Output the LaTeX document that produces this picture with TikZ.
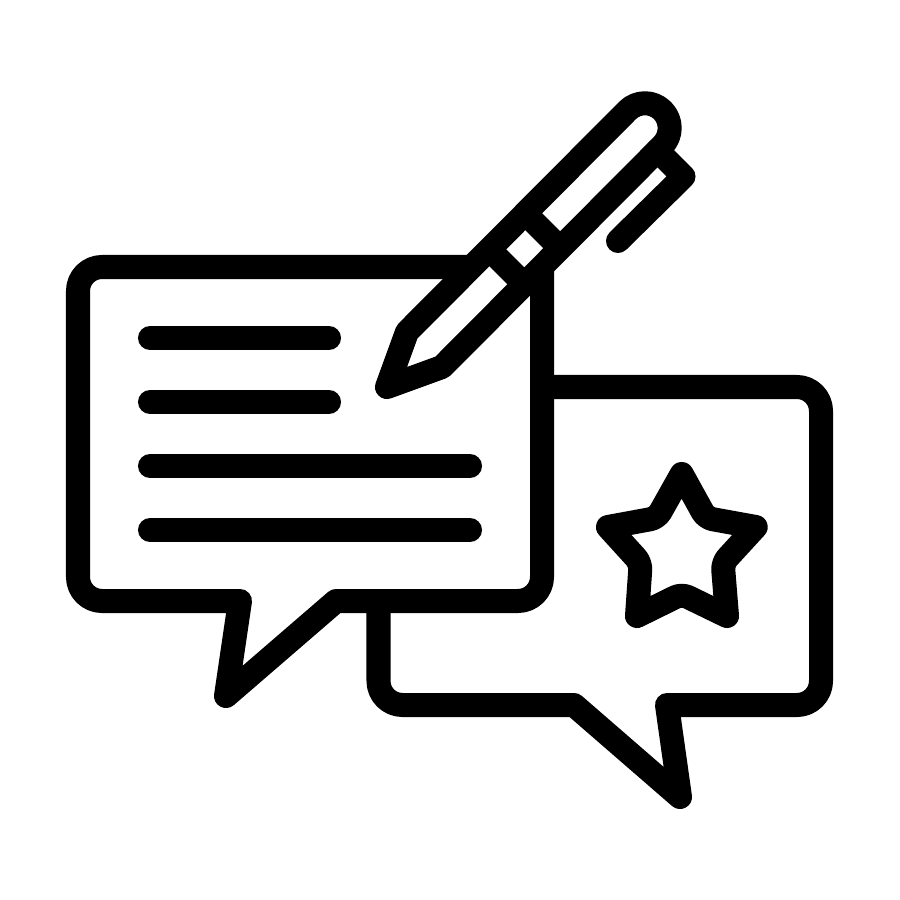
\documentclass[tikz,border=0pt]{standalone}
\usetikzlibrary{calc}
\tikzset{iconline/.style={draw=black, line width=0.24cm, line join=round, line cap=round}}
\tikzset{penband/.style={draw=black, line width=0.24cm, line cap=butt}}

\begin{document}
\begin{tikzpicture}[x=0.01cm, y=-0.01cm]
                    \fill[white] (0,0) rectangle (900,900);
                    \useasboundingbox (0,0) rectangle (900,900);

                    \draw[iconline] (470,267) [rounded corners=0.24cm] -- (78,267) -- (78,601) [sharp corners] -- (240,601) -- (226,696) -- (336,601) [rounded corners=0.24cm] -- (542,601) -- (542,295) [sharp corners] .. controls (542,288) and (538,284) .. (530,278);
                    \draw[iconline] (542,387) [rounded corners=0.24cm] -- (821,387) -- (821,705) [sharp corners] -- (667,705) -- (680,797) -- (574,705) [rounded corners=0.24cm] -- (378.5,705) -- (378.5,601);

                    \draw[iconline] (150,338) -- (329,338);
                    \draw[iconline] (150,402) -- (329,402);
                    \draw[iconline] (150,466) -- (470,466);
                    \draw[iconline] (150,530) -- (470,530);

                    \coordinate (tip) at (387,387);
                    \coordinate (shoulder1) at (407,332);
                    \coordinate (shoulder2) at (442,367);
                    \coordinate (cap1) at (627.5,110.5);
                    \draw[iconline] (shoulder1) -- (cap1) arc[start angle=135, end angle=-45, radius=0.247cm] -- (shoulder2) -- (tip) -- cycle;
                    \draw[penband] (525,213) -- (560,248);
                    \draw[penband] (489,249) -- (524,284);
                    \draw[iconline] (657.5,150.5) -- (683.5,176.5) -- (618,241);

                    \draw[iconline] (681.7,474) [rounded corners=0.07cm] -- (706,518) [sharp corners] -- (755.7,527) [rounded corners=0.07cm] -- (722.7,563) [sharp corners] -- (727,616) [rounded corners=0.07cm] -- (681.7,594) [sharp corners] -- (637,616) [rounded corners=0.07cm] -- (640.7,563) [sharp corners] -- (608,527) [rounded corners=0.07cm] -- (657,518) [sharp corners] -- cycle;
                \end{tikzpicture}
\end{document}
